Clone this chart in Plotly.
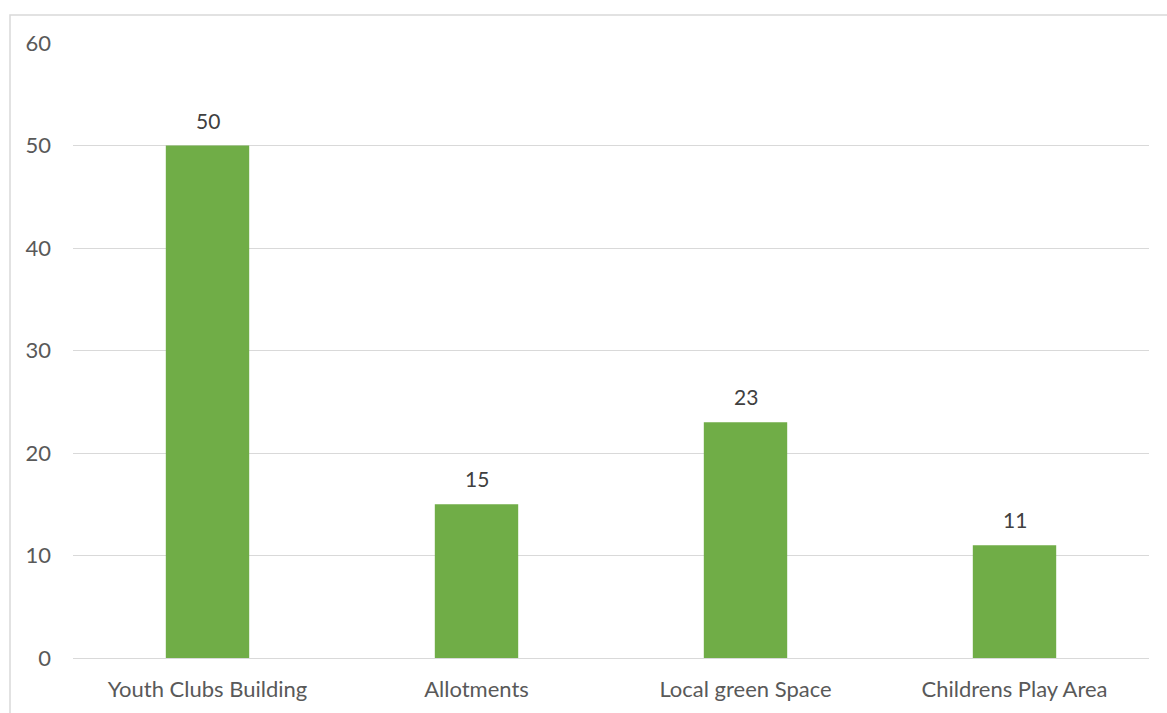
import plotly.graph_objects as go

categories = ["Youth Clubs Building", "Allotments", "Local green Space", "Childrens Play Area"]
values = [50, 15, 23, 11]
y_ticks = [0, 10, 20, 30, 40, 50, 60]

W, H = 1167, 713
ML, MR, MT, MB = 73, 18, 43, 55
pw = W - ML - MR
ph = H - MT - MB

font_family = "Lato, 'Open Sans', sans-serif"
txt_color = "#595959"
fs = 22

fig = go.Figure()
fig.add_trace(go.Bar(
    x=categories, y=values,
    marker=dict(color="#70ad47", line=dict(width=0)),
    hoverinfo="x+y",
))

for c, v in zip(categories, values):
    fig.add_annotation(x=c, y=v, text=str(v), showarrow=False,
                       yanchor="bottom", yshift=11,
                       font=dict(family=font_family, size=fs - 1, color="#404040"))

def px_x(p):
    return (p - ML) / pw

def px_y(p):
    return (H - MB - p) / ph

fig.add_shape(type="rect", xref="paper", yref="paper",
              x0=px_x(10), x1=px_x(1180), y0=px_y(725), y1=px_y(15),
              line=dict(color="#d9d9d9", width=1.5), fillcolor="rgba(0,0,0,0)", layer="below")

fig.update_layout(
    width=W, height=H,
    margin=dict(l=ML, r=MR, t=MT, b=MB, pad=0, autoexpand=False),
    paper_bgcolor="white", plot_bgcolor="white",
    bargap=0.69,
    showlegend=False,
    font=dict(family=font_family, size=fs, color=txt_color),
    xaxis=dict(showgrid=False, showline=False, ticks="", ticklabelstandoff=16, automargin=False,
               tickfont=dict(family=font_family, size=fs, color=txt_color)),
    yaxis=dict(range=[0, 60], tickvals=y_ticks, showgrid=True, gridcolor="#d9d9d9", gridwidth=1.2,
               zeroline=True, zerolinecolor="#d9d9d9", zerolinewidth=1.2, automargin=False,
               showline=False, ticks="", ticklabelstandoff=21,
               tickfont=dict(family=font_family, size=fs, color=txt_color)),
)

fig.write_html("out.html")
